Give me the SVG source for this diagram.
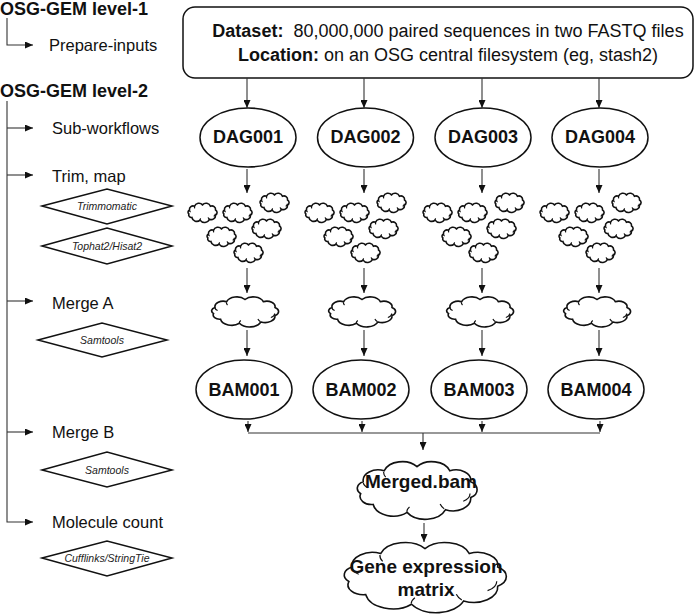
<svg xmlns="http://www.w3.org/2000/svg" xmlns:xlink="http://www.w3.org/1999/xlink" width="699" height="616" viewBox="0 0 699 616">
<style>
.t{font-family:"Liberation Sans",Arial,sans-serif;fill:#111}
.b{font-weight:bold}
.lab{font-size:16.5px}
.title{font-size:18px;font-weight:bold}
.nd{font-size:18px;font-weight:bold;text-anchor:middle}
.big{font-size:19px;font-weight:bold;text-anchor:middle}
.dt{font-size:10.5px;font-style:italic;text-anchor:middle;fill:#222}
.shape{fill:#fff;stroke:#111;stroke-width:1.5}
.cl{fill:#fff;stroke:#111;stroke-width:1.6}
.hk{fill:none;stroke:#111;stroke-width:1.2}
.con{fill:none;stroke:#333;stroke-width:1.1}
</style>
<defs>
<marker id="ah" markerWidth="9" markerHeight="7" refX="8" refY="3.5" orient="auto" markerUnits="userSpaceOnUse">
<path d="M0,0 L8,3.5 L0,7 z" fill="#111"/>
</marker>
<g id="cloud">
<path class="cl" vector-effect="non-scaling-stroke" d="M10.5,24.8 A11,11 0 0 1 25.9,13.3 A14,14 0 0 1 50,9 A14,14 0 0 1 74.1,13.3 A11,11 0 0 1 89.5,24.8 A9.5,9.5 0 0 1 89.5,41.2 A13,13 0 0 1 71,53.8 A16,16 0 0 1 42.7,56.6 A15,15 0 0 1 17.8,48.4 A8.5,8.5 0 0 1 8.6,37.2 A7.5,7.5 0 0 1 10.5,24.8 Z"/>
<path class="hk" vector-effect="non-scaling-stroke" d="M25.5,14.5 A9,9 0 0 0 27,20 M89,37 A9,9 0 0 1 84,45 M70,53 A13,13 0 0 1 67,48 M42.5,56 A8,8 0 0 1 44.5,51 M10.5,26 A7,7 0 0 0 14,31"/>
</g>
<g id="cgroup">
<use xlink:href="#cloud" transform="translate(186,202) scale(0.33,0.32)"/>
<use xlink:href="#cloud" transform="translate(221,202) scale(0.33,0.32)"/>
<use xlink:href="#cloud" transform="translate(258,192) scale(0.33,0.32)"/>
<use xlink:href="#cloud" transform="translate(205,226) scale(0.33,0.32)"/>
<use xlink:href="#cloud" transform="translate(250,218) scale(0.33,0.32)"/>
<use xlink:href="#cloud" transform="translate(232,242) scale(0.33,0.32)"/>
</g>
</defs>
<rect width="699" height="616" fill="#fff"/>

<g id="legend">
<text class="t title" x="0" y="15">OSG-GEM level-1</text>
<text class="t lab" x="49" y="51">Prepare-inputs</text>
<text class="t title" x="0" y="97">OSG-GEM level-2</text>
<text class="t lab" x="52" y="134">Sub-workflows</text>
<text class="t lab" x="52" y="182">Trim, map</text>
<text class="t lab" x="52" y="309">Merge A</text>
<text class="t lab" x="52" y="438">Merge B</text>
<text class="t lab" x="52" y="528">Molecule count</text>
<path class="con" d="M7,18 V45 H33" marker-end="url(#ah)"/>
<path class="con" d="M7,101 V522 H33" marker-end="url(#ah)"/>
<path class="con" d="M7,128 H33" marker-end="url(#ah)"/>
<path class="con" d="M7,175 H33" marker-end="url(#ah)"/>
<path class="con" d="M7,301 H33" marker-end="url(#ah)"/>
<path class="con" d="M7,432 H33" marker-end="url(#ah)"/>
</g>

<g id="tool-trimmomatic"><polygon class="shape" points="42,206 107,189 172,206 107,224"/><text class="t dt" x="107" y="210">Trimmomatic</text></g>
<g id="tool-tophat"><polygon class="shape" points="42,246 107,228 172,246 107,264"/><text class="t dt" x="107" y="250">Tophat2/Hisat2</text></g>
<g id="tool-samtools-a"><polygon class="shape" points="38,340 102,323 167,340 102,357"/><text class="t dt" x="102" y="344">Samtools</text></g>
<g id="tool-samtools-b"><polygon class="shape" points="42,470 107,452 172,470 107,487"/><text class="t dt" x="107" y="474">Samtools</text></g>
<g id="tool-cufflinks"><polygon class="shape" points="42,558 107,541 172,558 107,576"/><text class="t dt" x="107" y="562">Cufflinks/StringTie</text></g>

<g id="dataset">
<rect class="shape" x="183" y="7" width="510" height="71" rx="12"/>
<text class="t" x="448" y="37" font-size="18" text-anchor="middle"><tspan font-weight="bold">Dataset:</tspan><tspan dx="5"> 80,000,000 paired sequences in two FASTQ files</tspan></text>
<text class="t" x="448" y="61" font-size="18" text-anchor="middle"><tspan font-weight="bold">Location:</tspan> on an OSG central filesystem (eg, stash2)</text>
</g>

<g id="dag001"><ellipse class="shape" cx="248" cy="137.5" rx="48" ry="29.5"/><text class="t nd" x="248" y="143">DAG001</text></g>
<g id="dag002"><ellipse class="shape" cx="365.5" cy="137.5" rx="48" ry="29.5"/><text class="t nd" x="365.5" y="143">DAG002</text></g>
<g id="dag003"><ellipse class="shape" cx="483" cy="137.5" rx="48" ry="29.5"/><text class="t nd" x="483" y="143">DAG003</text></g>
<g id="dag004"><ellipse class="shape" cx="600" cy="137.5" rx="48" ry="29.5"/><text class="t nd" x="600" y="143">DAG004</text></g>

<g id="jobs001"><use xlink:href="#cgroup"/></g>
<g id="jobs002"><use xlink:href="#cgroup" transform="translate(117,0)"/></g>
<g id="jobs003"><use xlink:href="#cgroup" transform="translate(235,0)"/></g>
<g id="jobs004"><use xlink:href="#cgroup" transform="translate(352,0)"/></g>

<g id="merge001"><use xlink:href="#cloud" transform="translate(207,295) scale(0.76,0.5)"/></g>
<g id="merge002"><use xlink:href="#cloud" transform="translate(324,295) scale(0.76,0.5)"/></g>
<g id="merge003"><use xlink:href="#cloud" transform="translate(442,295) scale(0.76,0.5)"/></g>
<g id="merge004"><use xlink:href="#cloud" transform="translate(559,295) scale(0.76,0.5)"/></g>

<g id="bam001"><ellipse class="shape" cx="244" cy="389.5" rx="48" ry="29.5"/><text class="t nd" x="244" y="396">BAM001</text></g>
<g id="bam002"><ellipse class="shape" cx="361" cy="389.5" rx="48" ry="29.5"/><text class="t nd" x="361" y="396">BAM002</text></g>
<g id="bam003"><ellipse class="shape" cx="479" cy="389.5" rx="48" ry="29.5"/><text class="t nd" x="479" y="396">BAM003</text></g>
<g id="bam004"><ellipse class="shape" cx="596" cy="389.5" rx="48" ry="29.5"/><text class="t nd" x="596" y="396">BAM004</text></g>

<g id="merged-bam"><use xlink:href="#cloud" transform="translate(349,458) scale(1.36,0.96)"/><text class="t big" x="421" y="488">Merged.bam</text></g>
<g id="gene-matrix"><use xlink:href="#cloud" transform="translate(333,538) scale(1.84,1.17)"/><text class="t big" x="426" y="573">Gene expression</text><text class="t big" x="426" y="596">matrix</text></g>

<g id="connectors">
<path class="con" d="M247,78 V108" marker-end="url(#ah)"/>
<path class="con" d="M364,78 V108" marker-end="url(#ah)"/>
<path class="con" d="M482,78 V108" marker-end="url(#ah)"/>
<path class="con" d="M599,78 V108" marker-end="url(#ah)"/>
<path class="con" d="M247,169 V193" marker-end="url(#ah)"/>
<path class="con" d="M364,169 V193" marker-end="url(#ah)"/>
<path class="con" d="M482,169 V193" marker-end="url(#ah)"/>
<path class="con" d="M599,169 V193" marker-end="url(#ah)"/>
<path class="con" d="M247,268 V293" marker-end="url(#ah)"/>
<path class="con" d="M364,268 V293" marker-end="url(#ah)"/>
<path class="con" d="M482,268 V293" marker-end="url(#ah)"/>
<path class="con" d="M599,268 V293" marker-end="url(#ah)"/>
<path class="con" d="M247,330 V356" marker-end="url(#ah)"/>
<path class="con" d="M364,330 V356" marker-end="url(#ah)"/>
<path class="con" d="M482,330 V356" marker-end="url(#ah)"/>
<path class="con" d="M599,330 V356" marker-end="url(#ah)"/>
<path class="con" d="M248,421 V432" marker-end="url(#ah)"/>
<path class="con" d="M362,421 V432" marker-end="url(#ah)"/>
<path class="con" d="M482,421 V432" marker-end="url(#ah)"/>
<path class="con" d="M600,421 V432" marker-end="url(#ah)"/>
<path class="con" d="M248,433 H600"/>
<path class="con" d="M423,433 V450" marker-end="url(#ah)"/>
<path class="con" d="M424,523 V542" marker-end="url(#ah)"/>
</g>
</svg>
